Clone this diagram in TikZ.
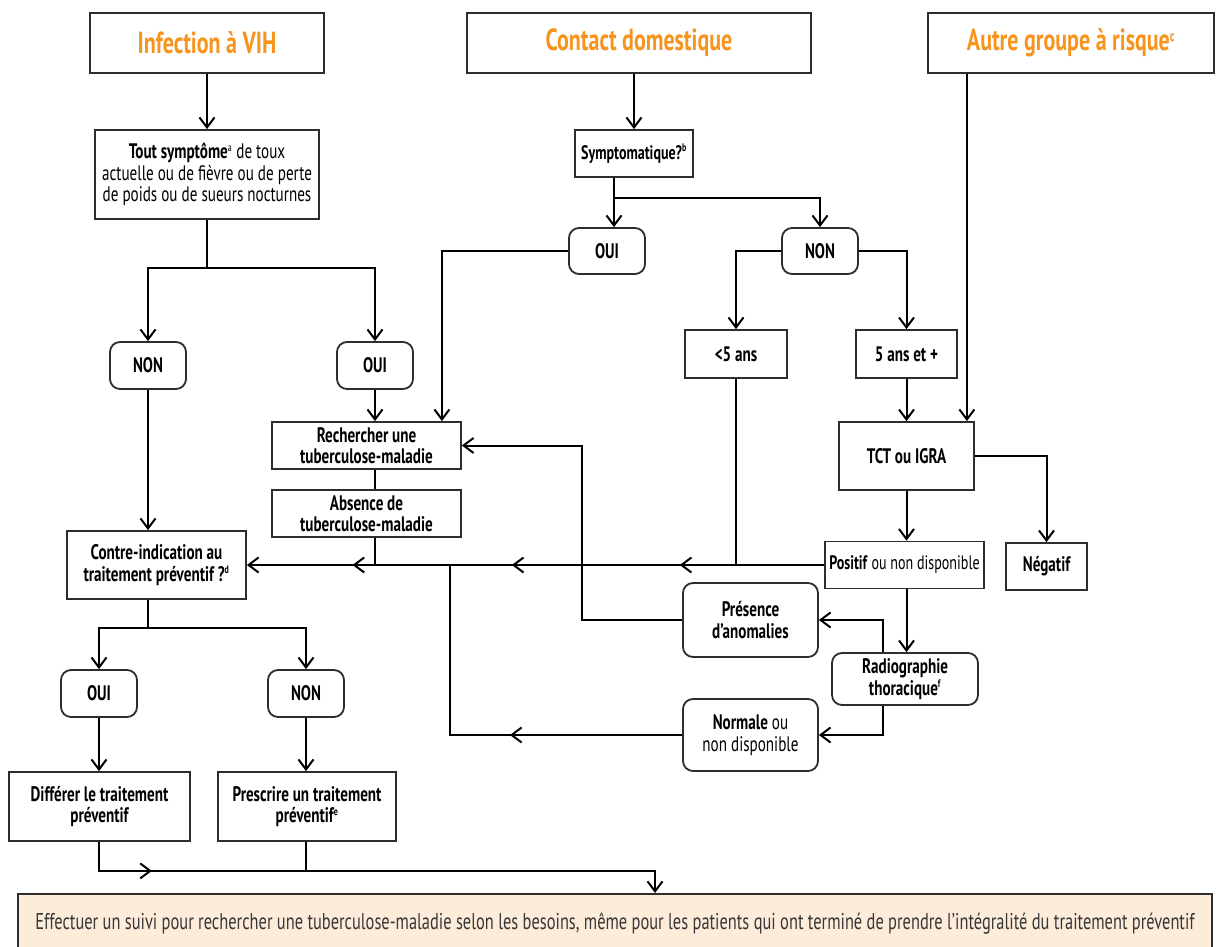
\documentclass[tikz,border=0pt]{standalone}
\usepackage{fontspec}
\setmainfont{PT Sans}[FakeStretch=0.72]
\usetikzlibrary{arrows.meta,decorations.markings,calc}
\definecolor{orangeT}{RGB}{247,148,29}
\definecolor{boxc}{RGB}{45,45,45}
\definecolor{peach}{RGB}{253,236,218}
\definecolor{txtg}{RGB}{55,55,55}
\newcommand\myhead{\fontsize{30.5}{32}\selectfont\bfseries}
\newcommand\mybody{\fontsize{21}{21.5}\selectfont}
\newcommand\mysmall{\fontsize{19.5}{21}\selectfont}
\newcommand\mybar{\fontsize{22.8}{24}\selectfont}
\newcommand\mysup[1]{\textsuperscript{\fontsize{11}{11}\selectfont #1}}
\newcommand\myhsup[1]{\textsuperscript{\fontsize{15}{15}\selectfont #1}}
\begin{document}
\begin{tikzpicture}[x=1pt,y=-1pt,
  >={Straight Barb[length=10pt,width=15pt]},
  line width=2pt,
  box/.style={draw=boxc, line width=1.8pt, fill=white, align=center, inner sep=0pt, font=\mybody, text=black},
  rbox/.style={box, rounded corners=10pt},
  head/.style={box, font=\myhead, text=orangeT},
  conn/.style={draw=black, line width=2pt},
  arr/.style={conn, ->},
  midarr/.style={postaction={decorate}, decoration={markings, mark=at position #1 with {\arrow{>}}}}
]
\useasboundingbox (0,0) rectangle (1216,947);

% headers
\node[head, minimum width=234pt, minimum height=60pt] (vih) at (207,43) {Infection à VIH};
\node[head, minimum width=344pt, minimum height=60pt] (contact) at (639,43) {Contact domestique};
\node[head, minimum width=286pt, minimum height=60pt] (autre) at (1071,43) {Autre groupe à risque\myhsup{c}};

% left column
\node[box, minimum width=224pt, minimum height=89pt] (tout) at (207,174.5)
  {\textbf{Tout symptôme}\mysup{a} de toux\\actuelle ou de fièvre ou de perte\\de poids ou de sueurs nocturnes};
\node[rbox, minimum width=76pt, minimum height=47pt, font=\mybody\bfseries] (nonL) at (148,365.5) {NON};
\node[rbox, minimum width=76pt, minimum height=47pt, font=\mybody\bfseries] (ouiL) at (375,365.5) {OUI};
\node[box, minimum width=189pt, minimum height=47pt, font=\mybody\bfseries] (rech) at (366.5,445.5) {Rechercher une\\tuberculose-maladie};
\node[box, minimum width=189pt, minimum height=47pt, font=\mybody\bfseries] (abs) at (366.5,513.5) {Absence de\\tuberculose-maladie};
\node[box, minimum width=179pt, minimum height=68pt, font=\mybody\bfseries] (contre) at (156.5,565) {Contre-indication au\\traitement préventif ?\mysup{d}};
\node[rbox, minimum width=76pt, minimum height=47pt, font=\mybody\bfseries] (ouiB) at (99,693.5) {OUI};
\node[rbox, minimum width=76pt, minimum height=47pt, font=\mybody\bfseries] (nonB) at (306,693.5) {NON};
\node[box, minimum width=181pt, minimum height=69pt, font=\mybody\bfseries] (diff) at (99.5,806.5) {Différer le traitement\\préventif};
\node[box, minimum width=178pt, minimum height=69pt, font=\mybody\bfseries] (presc) at (307,806.5) {Prescrire un traitement\\préventif\mysup{e}};

% middle column
\node[box, minimum width=118pt, minimum height=47pt, font=\mysmall\bfseries] (symp) at (634,153.5) {Symptomatique?\mysup{b}};
\node[rbox, minimum width=76pt, minimum height=46pt, font=\mybody\bfseries] (ouiC) at (607,251) {OUI};
\node[rbox, minimum width=76pt, minimum height=46pt, font=\mybody\bfseries] (nonC) at (820,251) {NON};
\node[box, minimum width=102pt, minimum height=48pt, font=\mybody\bfseries] (lt5) at (736,354) {<5 ans};
\node[box, minimum width=101pt, minimum height=48pt, font=\mybody\bfseries] (ge5) at (906.5,354) {5 ans et +};

% right column
\node[box, minimum width=135pt, minimum height=68pt, font=\mybody\bfseries] (tct) at (906.5,456) {TCT ou IGRA};
\node[box, minimum width=159pt, minimum height=47pt, font=\mysmall] (pos) at (904.5,565) {\textbf{Positif} ou non disponible};
\node[box, minimum width=81pt, minimum height=47pt, font=\mybody\bfseries] (neg) at (1046.5,566.5) {Négatif};
\node[rbox, minimum width=135pt, minimum height=74pt, font=\mybody\bfseries] (pres) at (750.5,620) {Présence\\d’anomalies};
\node[rbox, minimum width=146pt, minimum height=52pt, font=\mybody\bfseries] (radio) at (905,679) {Radiographie\\thoracique\mysup{f}};
\node[rbox, minimum width=135pt, minimum height=72pt] (norm) at (750.5,735) {\textbf{Normale} ou\\non disponible};

% bottom bar
\node[box, fill=peach, text=txtg, font=\mybar, minimum width=1194pt, minimum height=64pt, anchor=north] (bar) at (615,893)
  {\raisebox{9pt}{Effectuer un suivi pour rechercher une tuberculose-maladie selon les besoins, même pour les patients qui ont terminé de prendre l’intégralité du traitement préventif}};

% ---- connectors ----
\draw[arr] (vih.south) -- (vih.south |- tout.north);
\draw[conn] (tout.south) -- ++(0,48) coordinate (j1);
\draw[arr] (j1) -| (nonL.north);
\draw[arr] (j1) -| (ouiL.north);
\draw[arr] (ouiL.south) -- (ouiL.south |- rech.north);
\draw[conn] (ouiL.south |- rech.south) -- (ouiL.south |- abs.north);
\draw[conn] (ouiL.south |- abs.south) -- (ouiL.south |- pos.west);
\draw[arr] (nonL.south) -- (nonL.south |- contre.north);
\draw[conn] (nonL.south |- contre.south) -- ++(0,28) coordinate (j2);
\draw[arr] (j2) -| (ouiB.north);
\draw[arr] (j2) -| (nonB.north);
\draw[arr] (ouiB.south) -- (ouiB.south |- diff.north);
\draw[arr] (nonB.south) -- (nonB.south |- presc.north);
\draw[arr, midarr=0.135] (ouiB.south |- diff.south) -- ++(0,29) -| ([xshift=40pt]bar.north);
\draw[conn] (nonB.south |- presc.south) -- ++(0,29);

\draw[arr] (symp.north |- contact.south) -- (symp.north);
\draw[conn] ([xshift=-20pt]symp.south) -- ++(0,20) coordinate (j3);
\draw[arr] (j3) -- (j3 |- ouiC.north);
\draw[arr] (j3) -| (nonC.north);
\draw[arr] (ouiC.west) -| ([xshift=-20pt]rech.north east);
\draw[arr] (nonC.west) -| (lt5.north);
\draw[arr] (nonC.east) -| (ge5.north);
\draw[conn] (lt5.south) -- (lt5.south |- pos.west);
\draw[arr] (ge5.south) -- (tct.north);
\draw[arr] ([xshift=-8pt]tct.north east |- autre.south) -- ([xshift=-8pt]tct.north east);
\draw[arr] (tct.east) -| (neg.north);
\draw[arr] (tct.south) -- (tct.south |- pos.north);
\draw[arr] (tct.south |- pos.south) -- (tct.south |- radio.north);
\draw[arr] ([xshift=-22pt]radio.north) |- (pres.east);
\draw[arr] ([xshift=-22pt]radio.south) |- (norm.east);
\draw[arr] (pres.west) -- ++(-100,0) |- (rech.east);
\draw[conn, midarr=0.428] (norm.west) -| ([xshift=-12pt]abs.south east |- pos.west);
\draw[arr, postaction={decorate}, decoration={markings,
   mark=at position 0.25 with {\arrow{>}},
   mark=at position 0.541 with {\arrow{>}},
   mark=at position 0.817 with {\arrow{>}}}] (pos.west) -- (contre.east);
\end{tikzpicture}
\end{document}
